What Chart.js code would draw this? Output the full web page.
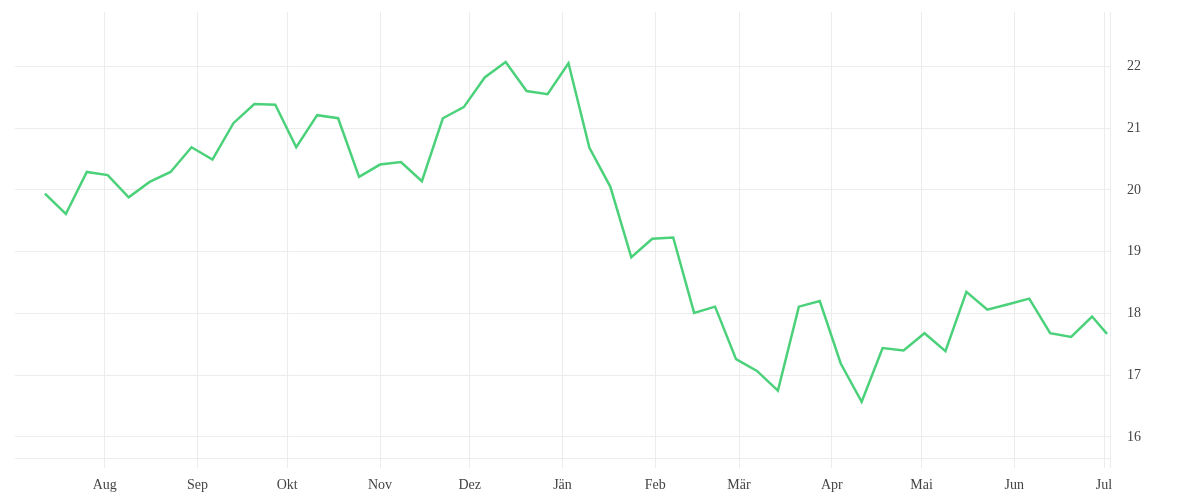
<!DOCTYPE html>
<html lang="de">
<head>
<meta charset="utf-8">
<title>Kursverlauf</title>
<script src="https://cdn.jsdelivr.net/npm/chart.js@4"></script>
<style>
  html, body { margin: 0; padding: 0; background: #fff; }
  #wrap { width: 1200px; height: 500px; }
</style>
</head>
<body>
<div id="wrap"><canvas id="priceChart"></canvas></div>
<script>
// weekly closes + last value
const dates = [
  '2024-07-12', '2024-07-19', '2024-07-26', '2024-08-02', '2024-08-09', '2024-08-16',
  '2024-08-23', '2024-08-30', '2024-09-06', '2024-09-13', '2024-09-20', '2024-09-27',
  '2024-10-04', '2024-10-11', '2024-10-18', '2024-10-25', '2024-11-01', '2024-11-08',
  '2024-11-15', '2024-11-22', '2024-11-29', '2024-12-06', '2024-12-13', '2024-12-20',
  '2024-12-27', '2025-01-03', '2025-01-10', '2025-01-17', '2025-01-24', '2025-01-31',
  '2025-02-07', '2025-02-14', '2025-02-21', '2025-02-28', '2025-03-07', '2025-03-14',
  '2025-03-21', '2025-03-28', '2025-04-04', '2025-04-11', '2025-04-18', '2025-04-25',
  '2025-05-02', '2025-05-09', '2025-05-16', '2025-05-23', '2025-05-30', '2025-06-06',
  '2025-06-13', '2025-06-20', '2025-06-27', '2025-07-02'
];
const prices = [
  19.94, 19.61, 20.29, 20.24, 19.88, 20.13,
  20.29, 20.69, 20.49, 21.08, 21.39, 21.38,
  20.69, 21.21, 21.16, 20.21, 20.41, 20.45,
  20.14, 21.16, 21.34, 21.82, 22.07, 21.60,
  21.55, 22.05, 20.68, 20.05, 18.91, 19.21,
  19.23, 18.01, 18.11, 17.26, 17.07, 16.75,
  18.11, 18.20, 17.19, 16.57, 17.44, 17.40,
  17.68, 17.39, 18.35, 18.06, 18.15, 18.24,
  17.68, 17.62, 17.95, 17.67
];

const monthTicks = [
  '2024-08-01', '2024-09-01', '2024-10-01', '2024-11-01', '2024-12-01', '2025-01-01',
  '2025-02-01', '2025-03-01', '2025-04-01', '2025-05-01', '2025-06-01', '2025-07-01'
];
const monthLabels = ['Aug', 'Sep', 'Okt', 'Nov', 'Dez', 'Jän', 'Feb', 'Mär', 'Apr', 'Mai', 'Jun', 'Jul'];
const yTicks = [16, 17, 18, 19, 20, 21, 22];

// days since 1 Jul 2024, so a plain linear axis can stand in for a time axis
const origin = Date.UTC(2024, 6, 1);
const toDay = s => (Date.parse(s) - origin) / 86400000;

const xMin = 1, xMax = 367;
const monthDays = monthTicks.map(toDay);

const gridColor = '#ececec';
const labelFont = { family: "'Liberation Serif', 'DejaVu Serif', serif", size: 14 };
const labelColor = '#444';

const points = dates.map((d, i) => ({ x: toDay(d), y: prices[i] }));

new Chart(document.getElementById('priceChart'), {
  type: 'line',
  data: {
    datasets: [{
      data: points,
      borderColor: '#4cd17b',
      borderWidth: 2.5,
      pointRadius: 0,
      pointHoverRadius: 0,
      tension: 0,
      fill: false
    }]
  },
  options: {
    responsive: true,
    maintainAspectRatio: false,
    animation: false,
    layout: { padding: { left: 15, top: 12, right: 0, bottom: 0 } },
    plugins: {
      legend: { display: false },
      tooltip: { enabled: false }
    },
    scales: {
      x: {
        type: 'linear',
        min: xMin,
        max: xMax,
        afterBuildTicks: axis => {
          axis.ticks = monthDays.concat(xMax).map(v => ({ value: v }));
        },
        afterFit: scale => {
          scale.height = 42;
          scale.paddingLeft = 0;
          scale.paddingRight = 0;
        },
        ticks: {
          autoSkip: false,
          maxRotation: 0,
          padding: 9,
          color: labelColor,
          font: labelFont,
          callback: value => {
            const i = monthDays.indexOf(value);
            return i >= 0 ? monthLabels[i] : '';
          }
        },
        grid: { color: gridColor, tickLength: 10 },
        border: { color: gridColor }
      },
      y: {
        position: 'right',
        min: 15.66,
        max: 22.88,
        afterBuildTicks: axis => {
          axis.ticks = yTicks.map(v => ({ value: v }));
        },
        afterFit: scale => {
          scale.width = 90;
          scale.paddingTop = 0;
          scale.paddingBottom = 0;
        },
        ticks: {
          padding: 17,
          color: labelColor,
          font: labelFont
        },
        grid: { color: gridColor, drawTicks: false },
        border: { display: false }
      }
    }
  }
});
</script>
</body>
</html>
